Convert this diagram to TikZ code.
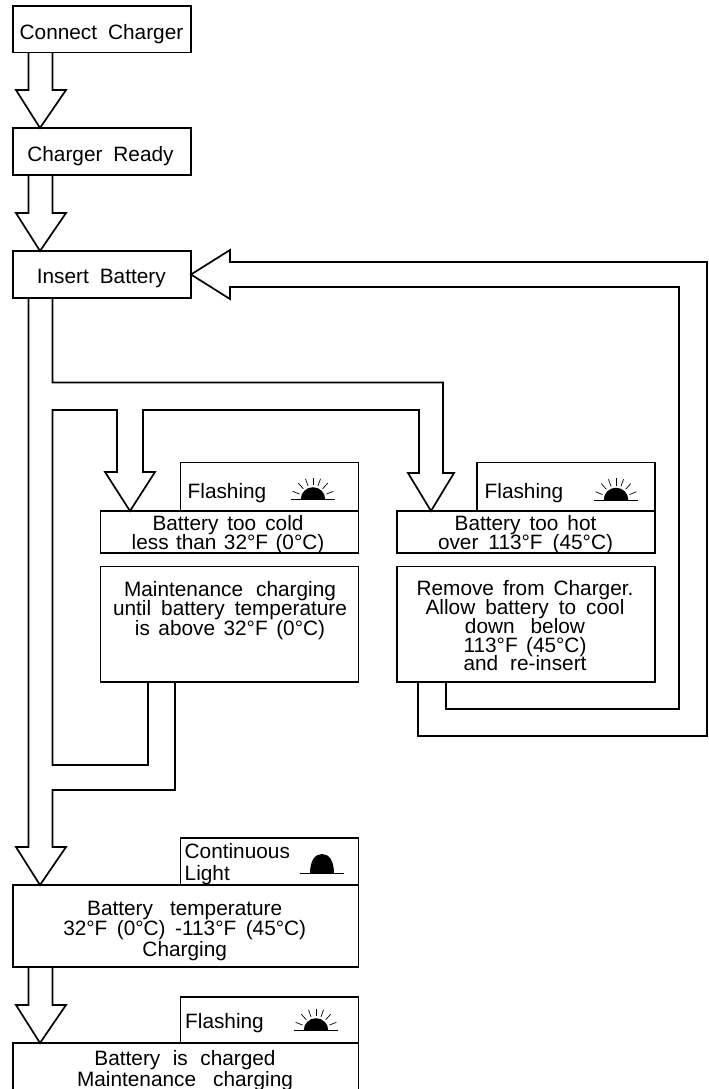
\documentclass[tikz,border=0pt]{standalone}
\usepackage{fontspec}
\setmainfont{Liberation Sans}
\usetikzlibrary{calc}
\newcommand{\ws}[1]{\spaceskip=#1pt\relax}
\lineskiplimit=-100pt
\tikzset{
  x=1pt,y=-1pt,
  flow/.style={line width=1.7pt,miter limit=10,line join=miter},
  box/.style={draw,line width=1.7pt,inner sep=0pt,outer sep=0pt},
  txt/.style={inner sep=0pt,align=center,font=\fontsize{20.8}{18.8}\selectfont},
  txtmid/.style={txt,font=\fontsize{20.8}{19.4}\selectfont},
  txtwide/.style={txt,font=\fontsize{20.8}{20.8}\selectfont},
  one/.style={inner sep=0pt,anchor=base,font=\fontsize{20.8}{22}\selectfont},
  lamp/.style={inner sep=0pt,anchor=base west,font=\fontsize{20.8}{22}\selectfont},
  sun/.pic={
    \fill (-12.3,0) arc[start angle=180,end angle=360,radius=12.3] -- cycle;
    \draw[line width=0.7pt] (-22,0) -- (22,0);
    \foreach \a in {22,48,70,90,110,132,158}
      \draw[line width=0.7pt] (-\a:14.5) -- (-\a:22);
  },
  dome/.pic={
    \fill (-12,0) .. controls (-12,-13) and (-7,-19.5) .. (0,-19.5) .. controls (7,-19.5) and (12,-13) .. (12,0) -- cycle;
    \draw[line width=0.7pt] (-22,0) -- (22,0);
  }
}
\newcommand{\flowdown}[2]{%
  \draw[flow] ($(#1.south west)+(15.5,0)$) -- ($(#2.north west)+(15.5,-38)$) -- ($(#2.north west)+(3,-38)$)
   -- ($(#2.north west)+(27,0)$) -- ($(#2.north west)+(53,-38)$) -- ($(#2.north west)+(39.5,-38)$) -- ($(#1.south west)+(39.5,0)$);}
\newcommand{\bx}[5]{\node[box,minimum width=#3-#2,minimum height=#5-#4] (#1) at ({(#2+#3)/2},{(#4+#5)/2}) {};}
\begin{document}
\begin{tikzpicture}
\useasboundingbox (0,0) rectangle (709,1089);
\clip (0,0) rectangle (709,1089);
\bx{conn}{13}{191}{6}{52.5}
\bx{ready}{13}{191}{128}{175}
\bx{insert}{13}{191}{251}{298}
\bx{coldlamp}{180.5}{358.5}{462.5}{511}
\bx{hotlamp}{477}{655}{462.5}{511}
\bx{cold}{100.5}{358.5}{511}{553}
\bx{hot}{397}{655}{511}{553}
\bx{maint}{100.5}{358.5}{566.5}{682}
\bx{remove}{397}{655}{566.5}{682}
\bx{chglamp}{180.5}{358.5}{838}{885}
\bx{temp}{13}{358.5}{885}{967}
\bx{donelamp}{180.5}{358.5}{997}{1043}
\bx{done}{13}{358.5}{1043}{1100}
\node[one] (conntext) at (101.5,40) {\ws{11}Connect Charger};
\node[one] (readytext) at (100.5,161.7) {\ws{11}Charger Ready};
\node[one] (inserttext) at (101.3,283.3) {\ws{11}Insert Battery};
\node[txt,anchor=north] (coldtext) at (228,515) {\ws{9}Battery too cold\\\ws{7.4}less than 32°F (0°C)};
\node[txt,anchor=north] (hottext) at (525.5,515) {\ws{9}Battery too hot\\\ws{10}over 113°F (45°C)};
\node[txtmid,anchor=north] (mainttext) at (230,581) {\ws{13}Maintenance charging\\\ws{10}until battery temperature\\\ws{8.5}is above 32°F (0°C)};
\node[txt,anchor=north] (removetext) at (525,580.5) {\ws{9}Remove from Charger.\\\ws{10}Allow battery to cool\\\ws{16}down below\\\ws{8.4}113°F (45°C)\\\ws{12}and re-insert};
\node[txtwide,anchor=north] (temptext) at (184.7,900.5) {\ws{17}Battery temperature\\\ws{9.5}32°F (0°C) -113°F (45°C)\\Charging};
\node[txtwide,anchor=north] (donetext) at (185,1050) {\ws{12.5}Battery is charged\\\ws{17}Maintenance charging};
\node[lamp] (f1) at (187.5,498) {Flashing};
\node[lamp] (f2) at (484.5,498) {Flashing};
\node[lamp] (f3) at (185,1028) {Flashing};
\node[lamp] (c1) at (184.5,858) {Continuous};
\node[lamp] (c2) at (184.5,880) {Light};
\pic at (313,499.5) {sun};
\pic at (616,500) {sun};
\pic at (316,1030.5) {sun};
\pic at (322,873.5) {dome};
\flowdown{conn}{ready}
\flowdown{ready}{insert}
\flowdown{temp}{done}
\draw[flow] ($(insert.south west)+(39.5,0)$) -- (52.5,382.5) -- (443,382.5) -- (443,473) -- (454,473)
  -- ($(hot.north west)+(34,0)$) -- (408,473) -- (419,473) -- (419,410) -- (143,410) -- (143,472) -- (155,472)
  -- ($(cold.north west)+(29.5,0)$) -- (105,472) -- (117,472) -- (117,410) -- (52.5,410) -- (52.5,765) -- (148,765)
  -- ($(maint.south west)+(47.5,0)$);
\draw[flow] ($(maint.south west)+(74.5,0)$) -- (175,790) -- (52.5,790) -- (52.5,847) -- (66,847)
  -- ($(temp.north west)+(27,0)$) -- (16,847) -- (28.5,847) -- ($(insert.south west)+(15.5,0)$);
\draw[flow] ($(remove.south west)+(49,0)$) -- (446,709) -- (679,709) -- (679,287) -- (230,287) -- (230,299)
  -- (insert.east) -- (230,250) -- (230,262) -- (707,262) -- (707,736) -- (418,736) -- ($(remove.south west)+(21,0)$);
\end{tikzpicture}
\end{document}
